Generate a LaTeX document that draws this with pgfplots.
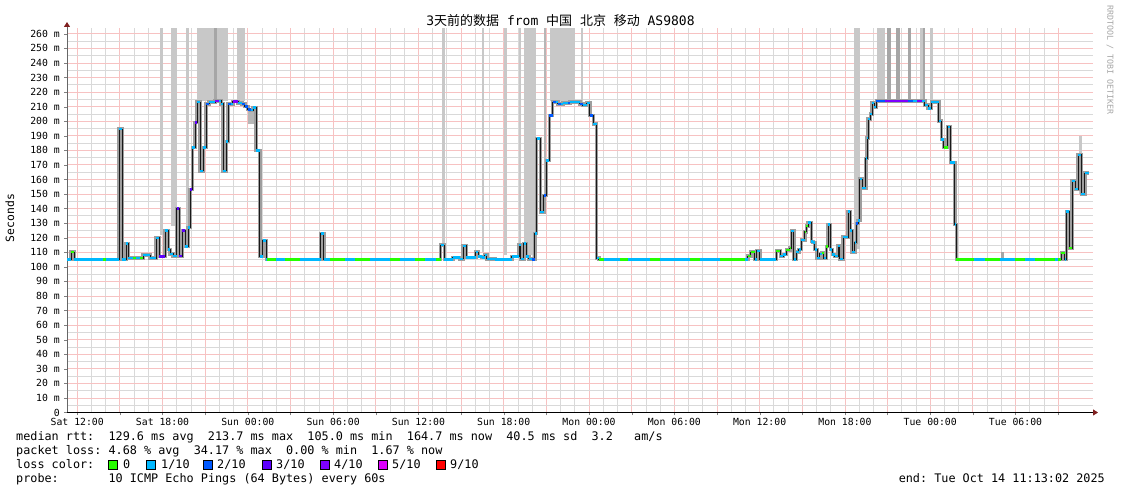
\documentclass[border=0pt]{standalone}
\usepackage{pgfplots}
\pgfplotsset{compat=1.18}
\usepackage{pgfplotstable}
\usetikzlibrary{arrows.meta}
\usepackage{fontspec}
\setmainfont{DejaVu Sans Mono}
\newfontfamily\cjk{Noto Sans CJK SC}

\definecolor{lc0}{HTML}{26FF00}
\definecolor{lc1}{HTML}{00B8FF}
\definecolor{lc2}{HTML}{0059FF}
\definecolor{lc3}{HTML}{5E00FF}
\definecolor{lc4}{HTML}{7E00FF}
\definecolor{lc5}{HTML}{DD00FF}
\definecolor{lc9}{HTML}{FF0000}
\definecolor{smokeL}{HTML}{C8C8C8}
\definecolor{smokeM}{HTML}{B6B6B6}
\definecolor{smokeD}{HTML}{A6A6A6}
\definecolor{gridmaj}{HTML}{F7C2C2}
\definecolor{gridmin}{HTML}{D9D9D9}
\definecolor{arrowred}{HTML}{802020}

\newcommand{\smokecol}[4]{\addplot[fill=#4, draw=none, forget plot] coordinates {(#1,#3) (#1,264) (#2,264) (#2,#3)} -- cycle;}
\newcommand{\smokeblk}[5]{\addplot[fill=#5, draw=none, forget plot] coordinates {(#1,#3) (#1,#4) (#2,#4) (#2,#3)} -- cycle;}

% median rtt (hours since Sat 12:00, ms)
\pgfplotstableread{
h v
-0.72 105
-0.443 110
-0.232 105
2.954 194.5
3.143 105
3.425 116
3.601 106
4.620 108
5.112 106
5.534 120
5.781 107
6.167 125
6.399 112
6.540 109
6.730 107.5
6.990 140
7.152 107.5
7.398 125
7.609 114
7.785 127
7.926 153
8.101 182
8.277 199
8.432 213
8.629 166
8.840 182
9.051 212
9.262 213
9.684 214
10.106 212
10.246 166
10.457 186
10.619 212
10.949 213.5
11.301 212.5
11.582 212
11.793 210
12.004 208
12.215 207.5
12.377 209.5
12.588 180
12.848 107
13.059 118
13.305 105
17.138 123
17.349 105
25.556 115
25.823 105
26.421 106.5
26.913 105.5
27.145 114.5
27.370 106.5
28.038 110
28.214 107
28.460 106.5
28.671 108
28.812 105.5
29.374 105
30.570 107
31.083 115
31.203 105.5
31.414 116
31.589 107
31.765 105.5
31.976 105
32.187 123
32.307 188
32.574 137.5
32.820 149
32.996 173
33.207 204
33.432 213
33.805 212
34.156 212.5
34.648 213
35.352 212
35.563 211
35.844 212.5
36.055 204
36.301 198
36.526 106
36.688 105
47.166 107.5
47.377 110
47.658 105
47.799 111
48.010 105
49.184 111
49.466 107.5
49.648 108.5
49.888 111.5
50.120 113
50.239 124.5
50.401 105
50.591 110
50.753 112
50.943 118.5
51.175 124
51.294 128
51.407 130.5
51.646 117.5
51.737 116.7
51.878 112
52.039 106
52.229 109
52.370 109.5
52.511 106
52.700 114
52.813 129
52.981 112
53.122 108.5
53.284 107.5
53.516 114.5
53.636 105.5
53.868 120.5
54.219 138
54.388 125
54.501 110
54.691 116.7
54.810 129.8
54.923 131.7
55.042 160.3
55.232 154
55.464 174.4
55.556 188.5
55.626 201.4
55.795 205
55.907 212.5
56.048 209.7
56.217 213.7
59.613 211
59.845 208.6
60.084 213
60.598 200
60.788 187.5
60.949 182
61.231 196.2
61.420 171.7
61.723 129
61.842 105
69.226 109.5
69.459 105
69.578 138
69.761 113
69.972 159
70.183 153.5
70.394 177
70.633 150
70.865 164.5
71.182 164.5
}\med

\begin{document}
\begin{tikzpicture}
\useasboundingbox (0,0) rectangle (1121pt,494pt);
\begin{axis}[
  at={(67pt,81.5pt)}, anchor=south west,
  scale only axis, width=1026pt, height=384.5pt,
  xmin=-0.72, xmax=71.45, ymin=0, ymax=264,
  axis x line*=bottom, axis y line*=left,
  x axis line style={black, line width=1pt, -{Triangle[length=5pt,width=6pt,color=arrowred]}, shorten >=-5pt},
  y axis line style={black!60, line width=1pt, -{Triangle[length=5pt,width=6pt,color=arrowred]}, shorten >=-6pt},
  xtick={0,3,...,69},
  xticklabels={Sat 12:00,,Sat 18:00,,Sun 00:00,,Sun 06:00,,Sun 12:00,,Sun 18:00,,Mon 00:00,,Mon 06:00,,Mon 12:00,,Mon 18:00,,Tue 00:00,,Tue 06:00,},
  minor x tick num=2,
  ytick={0,10,...,260},
  yticklabels={0,10 m,20 m,30 m,40 m,50 m,60 m,70 m,80 m,90 m,100 m,110 m,120 m,130 m,140 m,150 m,160 m,170 m,180 m,190 m,200 m,210 m,220 m,230 m,240 m,250 m,260 m},
  minor y tick num=1,
  grid=both,
  every major grid/.style={color=gridmaj, line width=0.8pt},
  every minor grid/.style={color=gridmin, line width=0.8pt},
  tick align=outside, major tick length=3pt, minor tick length=0pt,
  xticklabel style={font=\fontsize{9.8}{10}\selectfont, inner sep=0pt, yshift=-3pt},
  yticklabel style={font=\fontsize{9.8}{10}\selectfont, inner sep=0pt, xshift=-4pt},
  clip=true,
]
% smoke columns reaching off the top
\smokecol{5.81}{6.02}{122}{smokeL}
\smokecol{6.59}{6.99}{128}{smokeL}
\smokecol{7.62}{7.85}{126}{smokeL}
\smokecol{8.42}{10.58}{214}{smokeL}
\smokecol{9.60}{9.84}{215}{smokeD}
\smokecol{11.23}{11.79}{214}{smokeL}
\smokecol{25.65}{25.86}{116}{smokeL}
\smokecol{28.44}{28.62}{110}{smokeL}
\smokecol{30.01}{30.22}{108}{smokeL}
\smokecol{31.06}{31.18}{116}{smokeL}
\smokecol{31.41}{32.26}{108}{smokeL}
\smokecol{32.82}{32.96}{150}{smokeM}
\smokecol{33.24}{35.00}{214}{smokeL}
\smokecol{35.43}{35.61}{213}{smokeL}
\smokecol{54.62}{55.04}{112}{smokeL}
\smokecol{56.24}{56.80}{214.5}{smokeL}
\smokecol{56.99}{57.22}{214.5}{smokeD}
\smokecol{57.62}{57.85}{214.5}{smokeD}
\smokecol{58.42}{58.63}{214.5}{smokeD}
\smokecol{59.26}{59.47}{214.5}{smokeL}
\smokecol{59.47}{59.61}{214.5}{smokeD}
\smokecol{60.01}{60.22}{213}{smokeL}
\smokeblk{65.00}{65.20}{105}{110}{smokeD}
\smokeblk{70.44}{70.65}{150}{190}{smokeL}
\smokeblk{12.0}{12.6}{198}{208}{smokeM}
% smoke around the median
\addplot[const plot, draw=black!38, line width=3.6pt, forget plot] table[x=h,y=v]{\med};
% median line
\addplot[const plot, draw=black!90, line width=0.8pt, forget plot] table[x=h,y=v]{\med};
% loss colour (base 1/10)
\addplot[jump mark left, draw=lc1, line width=2.4pt, forget plot] table[x=h,y=v]{\med};
% 0 loss
\addplot[draw=lc0, line width=2.4pt, unbounded coords=jump, forget plot] coordinates {
(-0.443,110) (-0.232,110) (-0.232,nan)
(1.81,105) (2.02,105) (2.02,nan)
(3.92,106) (4.13,106) (4.13,nan)
(4.41,106) (4.6,106) (4.6,nan)
(13.33,105) (13.97,105) (13.97,nan)
(14.61,105) (15.66,105) (15.66,nan)
(17.77,105) (18.83,105) (18.83,nan)
(19.53,105) (20.58,105) (20.58,nan)
(21.99,105) (22.69,105) (22.69,nan)
(23.75,105) (24.45,105) (24.45,nan)
(25.23,105) (25.556,105) (25.556,nan)
(36.69,105) (37.04,105) (37.04,nan)
(38.17,105) (38.73,105) (38.73,nan)
(40.28,105) (40.98,105) (40.98,nan)
(43.09,105) (43.79,105) (43.79,nan)
(45.2,105) (46.96,105) (46.96,nan)
(47.166,107.5) (47.377,107.5) (47.377,nan)
(47.377,110) (47.658,110) (47.658,nan)
(49.184,111) (49.466,111) (49.466,nan)
(49.888,111.5) (50.12,111.5) (50.12,nan)
(50.12,113) (50.239,113) (50.239,nan)
(51.175,124) (51.294,124) (51.294,nan)
(51.294,128) (51.407,128) (51.407,nan)
(52.37,109.5) (52.511,109.5) (52.511,nan)
(52.7,114) (52.813,114) (52.813,nan)
(60.949,182) (61.231,182) (61.231,nan)
(61.842,105) (63.1,105) (63.1,nan)
(63.83,105) (64.89,105) (64.89,nan)
(65.94,105) (66.64,105) (66.64,nan)
(67.35,105) (68.75,105) (68.75,nan)
(68.96,105) (69.226,105) (69.226,nan)
(69.226,109.5) (69.459,109.5) (69.459,nan)
(69.761,113) (69.972,113) (69.972,nan)
};
% 2/10
\addplot[draw=lc2, line width=2.4pt, unbounded coords=jump, forget plot] coordinates {
(9.051,212) (9.262,212) (9.262,nan)
(10.619,212) (10.80,212) (10.80,nan)
(11.582,212) (11.793,212) (11.793,nan)
(11.793,210) (12.004,210) (12.004,nan)
(12.004,208) (12.215,208) (12.215,nan)
(31.976,105) (32.187,105) (32.187,nan)
(32.82,149) (32.996,149) (32.996,nan)
(33.207,204) (33.432,204) (33.432,nan)
(33.432,213) (33.66,213) (33.66,nan)
(33.805,212) (34.03,212) (34.03,nan)
(34.5,212.5) (34.648,212.5) (34.648,nan)
(35.352,212) (35.563,212) (35.563,nan)
(36.055,204) (36.301,204) (36.301,nan)
(54.81,129.8) (54.923,129.8) (54.923,nan)
(56.217,213.7) (56.8,213.7) (56.8,nan)
(58.42,213.7) (58.8,213.7) (58.8,nan)
};
% 3/10
\addplot[draw=lc3, line width=2.4pt, unbounded coords=jump, forget plot] coordinates {
(5.781,107) (6.167,107) (6.167,nan)
(6.99,140) (7.152,140) (7.152,nan)
(7.152,107.5) (7.398,107.5) (7.398,nan)
(7.398,125) (7.609,125) (7.609,nan)
(7.926,153) (8.101,153) (8.101,nan)
(8.277,199) (8.432,199) (8.432,nan)
};
% 4/10
\addplot[draw=lc4, line width=2.4pt, unbounded coords=jump, forget plot] coordinates {
(9.684,214) (9.95,214) (9.95,nan)
(10.949,213.5) (11.301,213.5) (11.301,nan)
(56.8,213.7) (58.42,213.7) (58.42,nan)
(59.05,213.7) (59.4,213.7) (59.4,nan)
};
\end{axis}
% title
\node[font=\fontsize{13}{14}\selectfont] at (560.5pt,473pt) {3{\cjk 天前的数据} from {\cjk 中国} {\cjk 北京} {\cjk 移动} AS9808};
% axis label
\node[rotate=90, font=\fontsize{11.4}{12}\selectfont] at (10pt,276pt) {Seconds};
% watermark
\node[rotate=-90, font=\fontsize{8.3}{9}\selectfont, text=black!35] at (1110pt,434pt) {RRDTOOL / TOBI OETIKER};
% legend
\begin{scope}[every node/.style={font=\fontsize{11.8}{14}\selectfont, inner sep=0pt, anchor=base west}]
\node at (16pt,53pt) {median~rtt:~~129.6~ms~avg~~213.7~ms~max~~105.0~ms~min~~164.7~ms~now~~40.5~ms~sd~~3.2~~~am/s};
\node at (16pt,39pt) {packet~loss:~4.68~\%~avg~~34.17~\%~max~~0.00~\%~min~~1.67~\%~now};
\node at (16pt,25pt) {loss~color:};
\node at (16pt,11pt) {probe:~~~~~~~10~ICMP~Echo~Pings~(64~Bytes)~every~60s};
\node at (123pt,25pt) {0};
\node at (161pt,25pt) {1/10};
\node at (217pt,25pt) {2/10};
\node at (276pt,25pt) {3/10};
\node at (334pt,25pt) {4/10};
\node at (392pt,25pt) {5/10};
\node at (450pt,25pt) {9/10};
\node[anchor=base east] at (1105pt,11pt) {end:~Tue~Oct~14~11:13:02~2025};
\end{scope}
\begin{scope}[every node/.style={draw=black, line width=0.7pt, minimum size=9pt, inner sep=0pt, anchor=center}]
\node[fill=lc0] at (112.5pt,29pt) {};
\node[fill=lc1] at (150.5pt,29pt) {};
\node[fill=lc2] at (207.5pt,29pt) {};
\node[fill=lc3] at (266.5pt,29pt) {};
\node[fill=lc4] at (324.5pt,29pt) {};
\node[fill=lc5] at (382.5pt,29pt) {};
\node[fill=lc9] at (440.5pt,29pt) {};
\end{scope}
\end{tikzpicture}
\end{document}
